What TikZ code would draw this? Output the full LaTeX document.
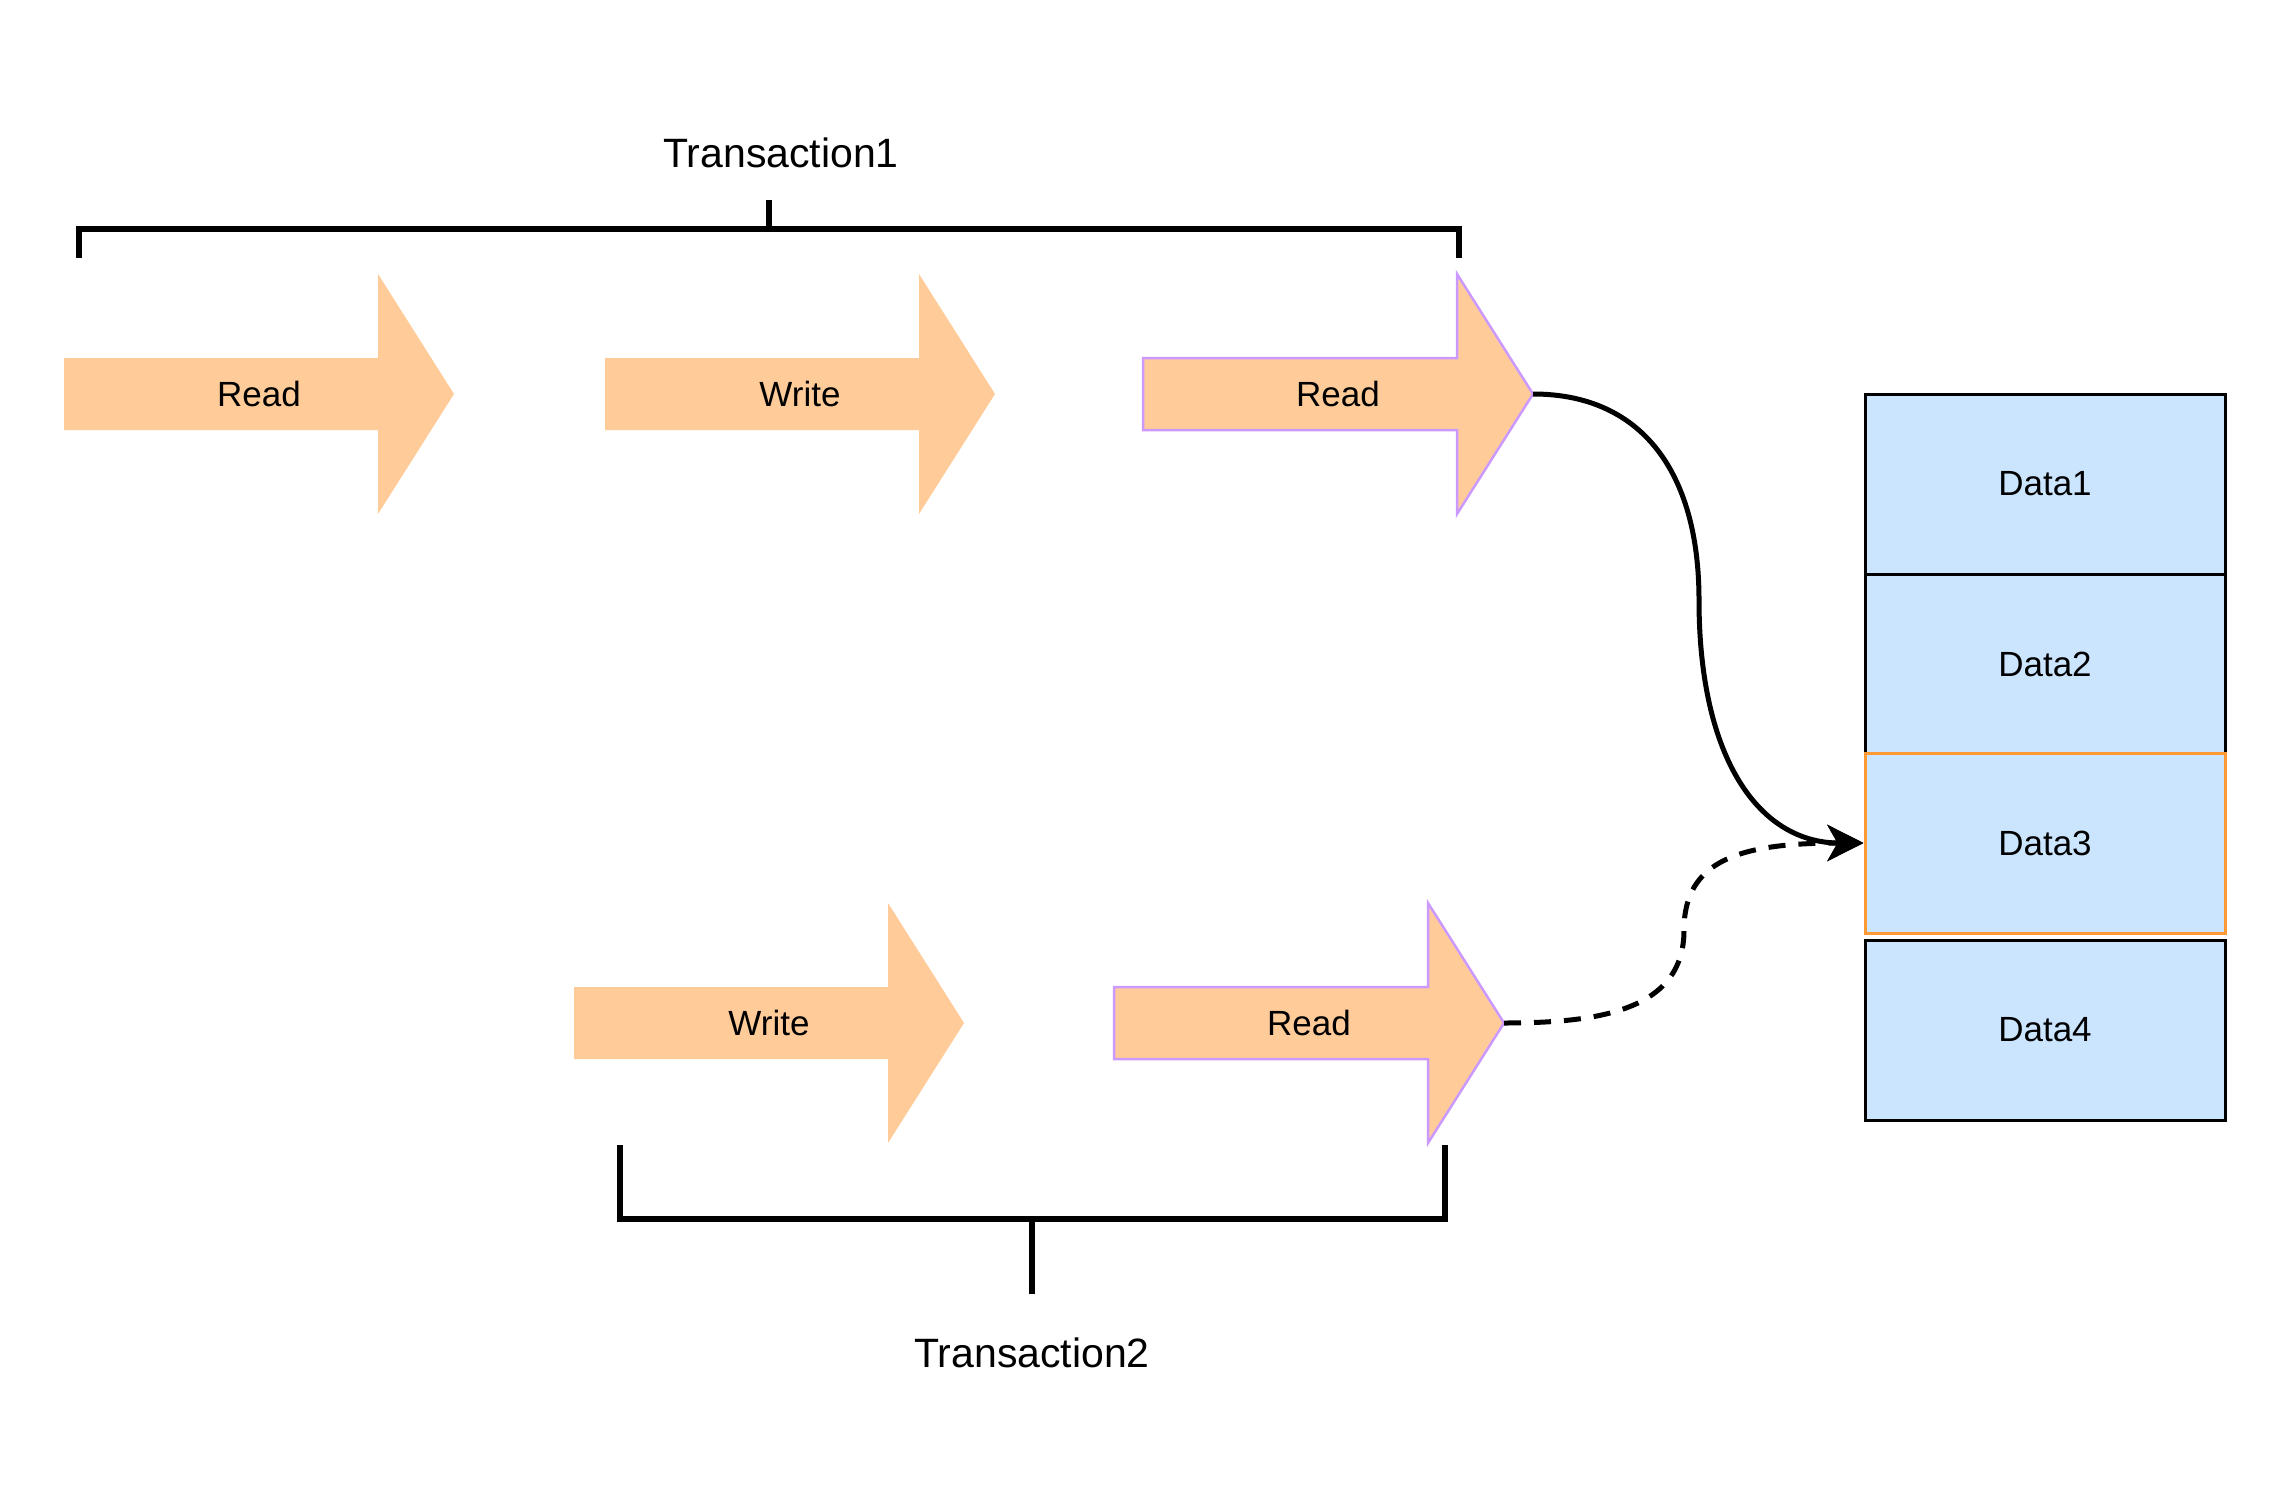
\documentclass[tikz,border=0pt]{standalone}
\usepackage{fontspec}
\setmainfont{Liberation Sans}
\usetikzlibrary{arrows.meta}
\definecolor{arrowfill}{HTML}{FFCC99}
\definecolor{purplestroke}{HTML}{CC99FF}
\definecolor{datafill}{HTML}{CCE5FF}
\definecolor{orangestroke}{HTML}{FF9933}
\tikzset{
  plainarrow/.style={fill=arrowfill, draw=none},
  markedarrow/.style={fill=arrowfill, draw=purplestroke, line width=2.5pt, line join=miter},
  arrowtext/.style={font=\fontsize{35}{42}\selectfont, inner sep=0pt},
  translabel/.style={font=\fontsize{41}{49}\selectfont, inner sep=0pt},
  databox/.style={draw=black, fill=datafill, line width=3pt, minimum width=360pt, minimum height=180pt, inner sep=0pt, font=\fontsize{35}{42}\selectfont},
  hotbox/.style={databox, draw=orangestroke},
  bracketline/.style={line width=6pt, line join=miter},
  link/.style={line width=5pt, -{Stealth[length=36pt,width=36pt,inset=10pt]}},
  dashedlink/.style={link, dash pattern=on 17pt off 13pt}
}
\newcommand\flowarrow[5]{%
  \draw[#4] (#2,#3-36) -- (#2+314,#3-36) -- (#2+314,#3-120) -- (#2+390,#3)
    -- (#2+314,#3+120) -- (#2+314,#3+36) -- (#2,#3+36) -- cycle;
  \node[arrowtext] (#1) at (#2+195,#3) {#5};
  \coordinate (#1tip) at (#2+390,#3);
}
\begin{document}
\begin{tikzpicture}[x=1pt,y=-1pt]
\useasboundingbox (0,0) rectangle (2286,1506);
\fill[white] (0,0) rectangle (2286,1506);

% Transaction 1 bracket
\draw[bracketline] (79,258) -- (79,229) -- (1459,229) -- (1459,258);
\draw[bracketline] (769,229) -- (769,200);
\node[translabel] (t1) at (781,153) {Transaction1};

% Top row arrows
\flowarrow{r1}{64}{394}{plainarrow}{Read}
\flowarrow{w1}{605}{394}{plainarrow}{Write}
\flowarrow{r3}{1143}{394}{markedarrow}{Read}

% Bottom row arrows
\flowarrow{w2}{574}{1023}{plainarrow}{Write}
\flowarrow{r2}{1114}{1023}{markedarrow}{Read}

% Transaction 2 bracket
\draw[bracketline] (620,1145) -- (620,1219) -- (1445,1219) -- (1445,1145);
\draw[bracketline] (1032,1219) -- (1032,1294);
\node[translabel] (t2) at (1032,1353) {Transaction2};

% Data boxes
\node[databox] (d1) at (2045,484) {Data1};
\node[databox] (d2) at (2045,664) {Data2};
\node[databox] (d4) at (2045,1030) {Data4};
\node[hotbox] (d3) at (2045,843) {Data3};

% Connectors
\draw[link] (r3tip) .. controls (1640,394) and (1699,470) .. (1699,600)
  .. controls (1699,760) and (1760,843) .. (d3.west);
\draw[dashedlink] (r2tip) .. controls (1600,1023) and (1684,1010) .. (1684,930)
  .. controls (1684,860) and (1740,843) .. (d3.west);
\end{tikzpicture}
\end{document}
